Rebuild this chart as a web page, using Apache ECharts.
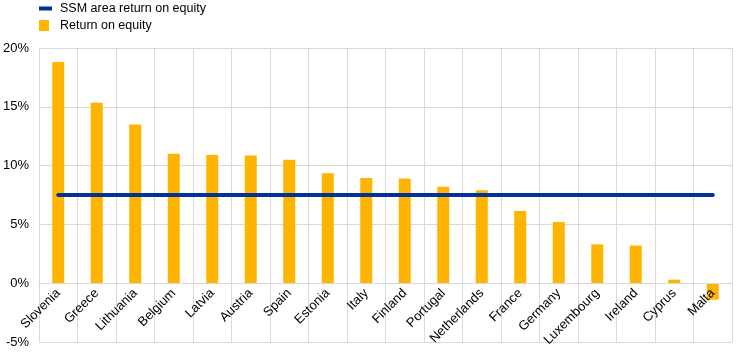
<!DOCTYPE html>
<html>
<head>
<meta charset="utf-8">
<script src="https://cdn.jsdelivr.net/npm/echarts@6/dist/echarts.min.js"></script>
<style>html,body{margin:0;padding:0;background:#fff}#c{width:745px;height:355px}</style>
</head>
<body>
<div id="c"></div>
<script>
var categories = ['Slovenia','Greece','Lithuania','Belgium','Latvia','Austria','Spain','Estonia','Italy','Finland','Portugal','Netherlands','France','Germany','Luxembourg','Ireland','Cyprus','Malta'];
var roeValues = [18.8, 15.35, 13.5, 11.0, 10.9, 10.85, 10.5, 9.35, 8.95, 8.9, 8.2, 7.9, 6.15, 5.2, 3.3, 3.2, 0.3, -1.4];
var ssmValues = [7.5, 7.5, 7.5, 7.5, 7.5, 7.5, 7.5, 7.5, 7.5, 7.5, 7.5, 7.5, 7.5, 7.5, 7.5, 7.5, 7.5, 7.5];
var yTicks = { min: -5, max: 20, interval: 5 };

var font = 'Liberation Sans, Arial, sans-serif';
var gridTop = 48, gridBottom = 13, H = 355;
var zeroOffset = (H - gridTop - gridBottom) * (0 - yTicks.min) / (yTicks.max - yTicks.min);
var chart = echarts.init(document.getElementById('c'), null, { renderer: 'canvas' });
chart.setOption({
  animation: false,
  backgroundColor: '#fff',
  legend: [{
    data: ['SSM area return on equity'],
    orient: 'vertical', left: 39, top: 2, padding: 0,
    icon: 'rect', itemWidth: 13, itemHeight: 4, itemGap: 6,
    textStyle: { fontFamily: font, fontSize: 12.5, color: '#000', padding: [0,0,0,3] }
  }, {
    data: ['Return on equity'],
    orient: 'vertical', left: 39, top: 19, padding: 0,
    icon: 'rect', itemWidth: 10, itemHeight: 11, itemGap: 6,
    textStyle: { fontFamily: font, fontSize: 12.5, color: '#000', padding: [0,0,0,6] }
  }],
  grid: { left: 39, right: 13, top: gridTop, bottom: gridBottom, containLabel: false, outerBoundsMode: 'none' },
  xAxis: {
    type: 'category', data: categories,
    offset: -zeroOffset, z: 3,
    axisLine: { onZero: false, lineStyle: { color: '#d9d9d9', width: 1 } },
    axisTick: { show: false },
    splitLine: { show: true, lineStyle: { color: '#d9d9d9', width: 1 } },
    axisLabel: { rotate: 45, interval: 0, margin: 8, fontFamily: font, fontSize: 13, color: '#000' }
  },
  yAxis: {
    type: 'value', min: yTicks.min, max: yTicks.max, interval: yTicks.interval,
    axisLine: { show: false }, axisTick: { show: false },
    splitLine: { lineStyle: { color: '#d9d9d9', width: 1 } },
    axisLabel: { formatter: '{value}%', margin: 10, fontFamily: font, fontSize: 13, color: '#000' }
  },
  series: [{
    name: 'SSM area return on equity', type: 'line', data: ssmValues,
    symbol: 'none', z: 5,
    itemStyle: { color: '#003299' },
    lineStyle: { color: '#003299', width: 4, cap: 'round' }
  }, {
    name: 'Return on equity', type: 'bar', data: roeValues,
    barWidth: 12,
    itemStyle: { color: '#FFB400' }
  }]
});
</script>
</body>
</html>
